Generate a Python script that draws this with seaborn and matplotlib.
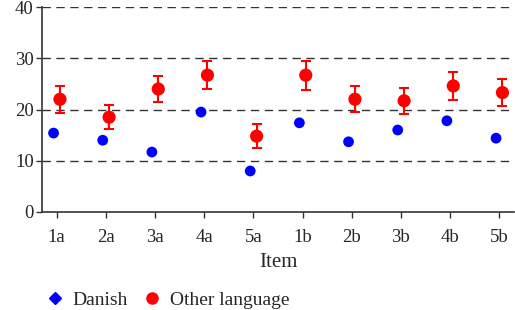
import numpy as np
import pandas as pd
import matplotlib
matplotlib.use("Agg")
import matplotlib.pyplot as plt
import seaborn as sns
from matplotlib.lines import Line2D

items = ["1a", "2a", "3a", "4a", "5a", "1b", "2b", "3b", "4b", "5b"]
danish = [15.4, 14.0, 11.7, 19.5, 8.0, 17.4, 13.7, 16.0, 17.8, 14.4]
other = [22.0, 18.5, 24.0, 26.7, 14.8, 26.7, 22.0, 21.7, 24.6, 23.3]
other_err = [2.6, 2.4, 2.6, 2.7, 2.3, 2.8, 2.5, 2.5, 2.8, 2.7]

sns.set_theme(style="white")
plt.rcParams["font.family"] = ["Liberation Serif", "DejaVu Serif"]

fig = plt.figure(figsize=(5.15, 3.10), dpi=100)
ax = fig.add_axes([42/515, 1 - 212/310, 472/515, 205/310])

pos = np.arange(len(items))
off = 0.065
df_d = pd.DataFrame({"x": pos - off, "y": danish})
df_o = pd.DataFrame({"x": pos + off, "y": other})

for yv in [10, 20, 30, 40]:
    ax.axhline(yv, color="#333333", lw=1.0, ls=(0, (6, 4)), zorder=0)

sns.scatterplot(data=df_d, x="x", y="y", ax=ax, color="#0000ff", s=60,
                marker="o", edgecolor="none", zorder=3, legend=False)
ax.errorbar(df_o["x"], df_o["y"], yerr=other_err, fmt="none", ecolor="#ff0000",
            elinewidth=1.5, capsize=3.6, capthick=1.5, zorder=3)
sns.scatterplot(data=df_o, x="x", y="y", ax=ax, color="#ff0000", s=90,
                marker="o", edgecolor="none", zorder=4, legend=False)

ax.set_xlim(-0.3, 9.3)
ax.set_ylim(0, 40)
ax.set_xticks(pos)
ax.set_xticklabels(items)
ax.set_yticks([0, 10, 20, 30, 40])
ax.tick_params(axis="x", length=4, width=1.0, color="#333333", labelsize=13.5, pad=8, bottom=True)
ax.tick_params(axis="y", length=4, width=1.0, color="#333333", labelsize=13.5, pad=2, left=True)
ax.set_xlabel("Item", fontsize=15, labelpad=5)
ax.set_ylabel("")
for sp in ["top", "right"]:
    ax.spines[sp].set_visible(False)
for sp in ["left", "bottom"]:
    ax.spines[sp].set_color("#333333")
    ax.spines[sp].set_linewidth(1.2)

handles = [
    Line2D([], [], marker="D", color="#0000ff", ls="none", markersize=6),
    Line2D([], [], marker="o", color="#ff0000", ls="none", markersize=8),
]
fig.legend(handles, ["Danish", "Other language"], loc="center left",
           bbox_to_anchor=(28/515, 1 - 300/310), ncol=2, frameon=False,
           fontsize=14, handletextpad=0.4, columnspacing=0.75, handlelength=1.0)

fig.savefig("out.png", dpi=100)
